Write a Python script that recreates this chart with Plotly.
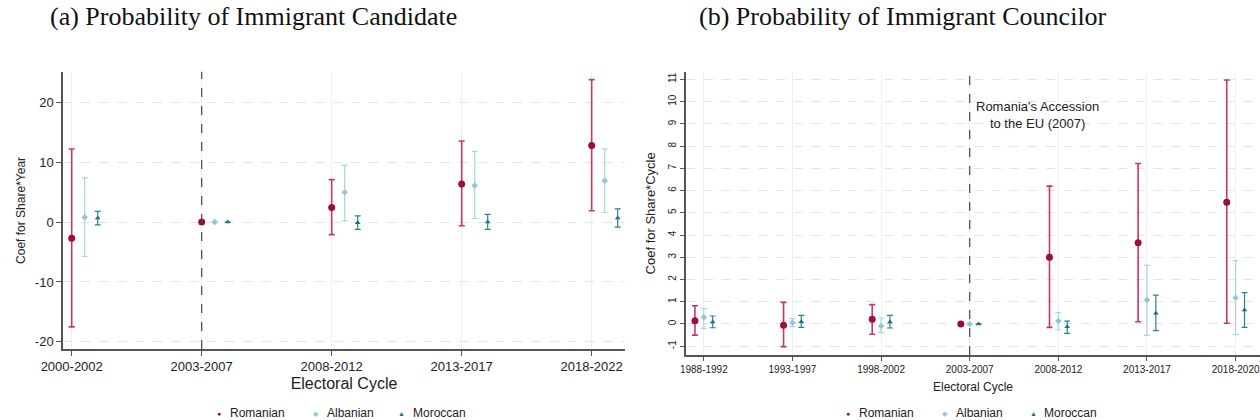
import plotly.graph_objects as go

# ---------- Data: panel (a) ----------
cycles_a = ["2000-2002", "2003-2007", "2008-2012", "2013-2017", "2018-2022"]
rom_a = [-2.7, 0.0, 2.45, 6.35, 12.8]
rom_a_hi = [12.2, 0.0, 7.1, 13.55, 23.8]
rom_a_lo = [-17.5, 0.0, -2.1, -0.6, 1.9]
alb_a = [0.8, 0.0, 5.0, 6.1, 6.9]
alb_a_hi = [7.4, 0.0, 9.5, 11.8, 12.2]
alb_a_lo = [-5.75, 0.0, 0.2, 0.6, 1.6]
mor_a = [0.7, 0.0, -0.1, 0.0, 0.67]
mor_a_hi = [1.8, 0.0, 1.05, 1.3, 2.2]
mor_a_lo = [-0.45, 0.0, -1.2, -1.2, -0.85]
yticks_a = [-20, -10, 0, 10, 20]
ytext_a = ["-20", "-10", "0", "10", "20"]

# ---------- Data: panel (b) ----------
cycles_b = ["1988-1992", "1993-1997", "1998-2002", "2003-2007", "2008-2012", "2013-2017", "2018-2020"]
rom_b = [0.15, -0.06, 0.21, 0.0, 3.0, 3.65, 5.48]
rom_b_hi = [0.82, 0.97, 0.87, 0.0, 6.2, 7.22, 10.97]
rom_b_lo = [-0.5, -1.02, -0.46, 0.0, -0.15, 0.1, 0.03]
alb_b = [0.3, 0.06, -0.09, 0.0, 0.13, 1.08, 1.18]
alb_b_hi = [0.69, 0.24, 0.27, 0.0, 0.51, 2.64, 2.85]
alb_b_lo = [-0.2, -0.12, -0.39, 0.0, -0.27, -0.51, -0.48]
mor_b = [0.09, 0.1, 0.09, 0.0, -0.12, 0.48, 0.63]
mor_b_hi = [0.36, 0.39, 0.39, 0.0, 0.13, 1.3, 1.41]
mor_b_lo = [-0.17, -0.15, -0.18, 0.0, -0.42, -0.3, -0.15]
yticks_b = list(range(-1, 12))
ytext_b = ["-1"] + [str(v) for v in range(0, 12)]

series_names = ["Romanian", "Albanian", "Moroccan"]
line_colors = ["#C8356A", "#A9D3E6", "#2A8296"]
marker_colors = ["#9E0B3E", "#93C6DD", "#1A6F82"]
symbols = ["circle", "diamond", "triangle-up"]
legend_glyphs = ["●", "◆", "▲"]

fig = go.Figure()

def add_series(xref, yref, cats, offsets, data):
    for i, (name, (v, hi, lo)) in enumerate(zip(series_names, data)):
        xs = [k + offsets[i] for k in range(len(cats))]
        fig.add_trace(go.Scatter(
            x=xs, y=v, mode="markers", name=name,
            xaxis=xref, yaxis=yref, showlegend=False,
            marker=dict(color=marker_colors[i], size=7 if i == 0 else 5, symbol=symbols[i]),
            error_y=dict(type="data", symmetric=False,
                         array=[h - c for h, c in zip(hi, v)],
                         arrayminus=[c - l for c, l in zip(v, lo)],
                         color=line_colors[i], thickness=1.6 if i == 0 else 1.2, width=3),
        ))

add_series("x", "y", cycles_a, [0.0, 0.1, 0.2],
           [(rom_a, rom_a_hi, rom_a_lo), (alb_a, alb_a_hi, alb_a_lo), (mor_a, mor_a_hi, mor_a_lo)])
add_series("x2", "y2", cycles_b, [-0.1, 0.0, 0.1],
           [(rom_b, rom_b_hi, rom_b_lo), (alb_b, alb_b_hi, alb_b_lo), (mor_b, mor_b_hi, mor_b_lo)])

axis_font = dict(family="Liberation Sans, Arial, sans-serif", color="#222222")
common = dict(showline=True, linecolor="#555555", linewidth=1.5, ticks="outside",
              tickcolor="#555555", zeroline=False, automargin=False,
              ticklabeloverflow="allow")

fig.update_layout(
    width=1260, height=420,
    margin=dict(l=0, r=0, t=0, b=0, autoexpand=False),
    paper_bgcolor="white", plot_bgcolor="white",
    showlegend=False,
    font=axis_font,
    xaxis=dict(domain=[0.05, 0.496], range=[-0.067, 4.256],
               tickmode="array", tickvals=list(range(len(cycles_a))), ticktext=cycles_a,
               ticklen=5, showgrid=True, gridcolor="#F0F0F0", gridwidth=1,
               tickfont=dict(size=13),
               title=dict(text="Electoral Cycle", font=dict(size=16), standoff=4), **common),
    yaxis=dict(domain=[0.169, 0.829], range=[-21.2, 25.1],
               tickmode="array", tickvals=yticks_a, ticktext=ytext_a,
               ticklen=5, showgrid=True, gridcolor="#E4E4E4", griddash="dash",
               gridwidth=1, tickfont=dict(size=13),
               title=dict(text="Coef for Share*Year", font=dict(size=12), standoff=7), **common),
    xaxis2=dict(domain=[0.5445, 1.0], range=[-0.2, 6.275], anchor="y2",
                tickmode="array", tickvals=list(range(len(cycles_b))), ticktext=cycles_b,
                ticklen=4, showgrid=True, gridcolor="#F0F0F0", gridwidth=1,
                tickfont=dict(size=10),
                title=dict(text="Electoral Cycle", font=dict(size=12), standoff=9), **common),
    yaxis2=dict(domain=[0.155, 0.829], range=[-1.39, 11.34], anchor="x2",
                tickmode="array", tickvals=yticks_b, ticktext=ytext_b, tickangle=-90,
                ticklen=4, showgrid=True, gridcolor="#E4E4E4", griddash="dash",
                gridwidth=1, tickfont=dict(size=10),
                title=dict(text="Coef for Share*Cycle", font=dict(size=13), standoff=9), **common),
)

# vertical dashed reference lines at 2003-2007
fig.add_shape(type="line", xref="x", yref="y domain", x0=1, x1=1, y0=0, y1=1,
              line=dict(color="#444444", width=1.2, dash="dash"))
fig.add_shape(type="line", xref="x2", yref="y2 domain", x0=3, x1=3, y0=0, y1=1,
              line=dict(color="#444444", width=1.2, dash="dash"))

# annotation
fig.add_annotation(xref="x2", yref="y2", x=3.76, y=9.4,
                   text="Romania's Accession<br>to the EU (2007)", showarrow=False,
                   font=dict(size=13, color="#222222"), align="center",
                   xanchor="center", yanchor="middle")

# titles
title_font = dict(family="Liberation Serif, Times New Roman, serif", size=26, color="#111111")
fig.add_annotation(xref="paper", yref="paper", x=253 / 1260, y=1 - 17 / 420,
                   xanchor="center", yanchor="middle",
                   text="(a) Probability of Immigrant Candidate", showarrow=False, font=title_font)
fig.add_annotation(xref="paper", yref="paper", x=903 / 1260, y=1 - 17 / 420,
                   xanchor="center", yanchor="middle",
                   text="(b) Probability of Immigrant Councilor", showarrow=False, font=title_font)

# legends
def legend_row(xs_marker, size):
    for i, (xm, name) in enumerate(zip(xs_marker, series_names)):
        fig.add_annotation(xref="paper", yref="paper", x=xm / 1260, y=1 - 413 / 420,
                           text=legend_glyphs[i], showarrow=False,
                           xanchor="center", yanchor="middle",
                           font=dict(size=7, color=marker_colors[i]))
        fig.add_annotation(xref="paper", yref="paper", x=(xm + 9) / 1260, y=1 - 413 / 420,
                           text=name, showarrow=False, xanchor="left", yanchor="middle",
                           font=dict(size=size, color="#222222"))

legend_row([219, 316, 402], 12)
legend_row([848, 945, 1033], 12)

fig.write_html("out.html")
